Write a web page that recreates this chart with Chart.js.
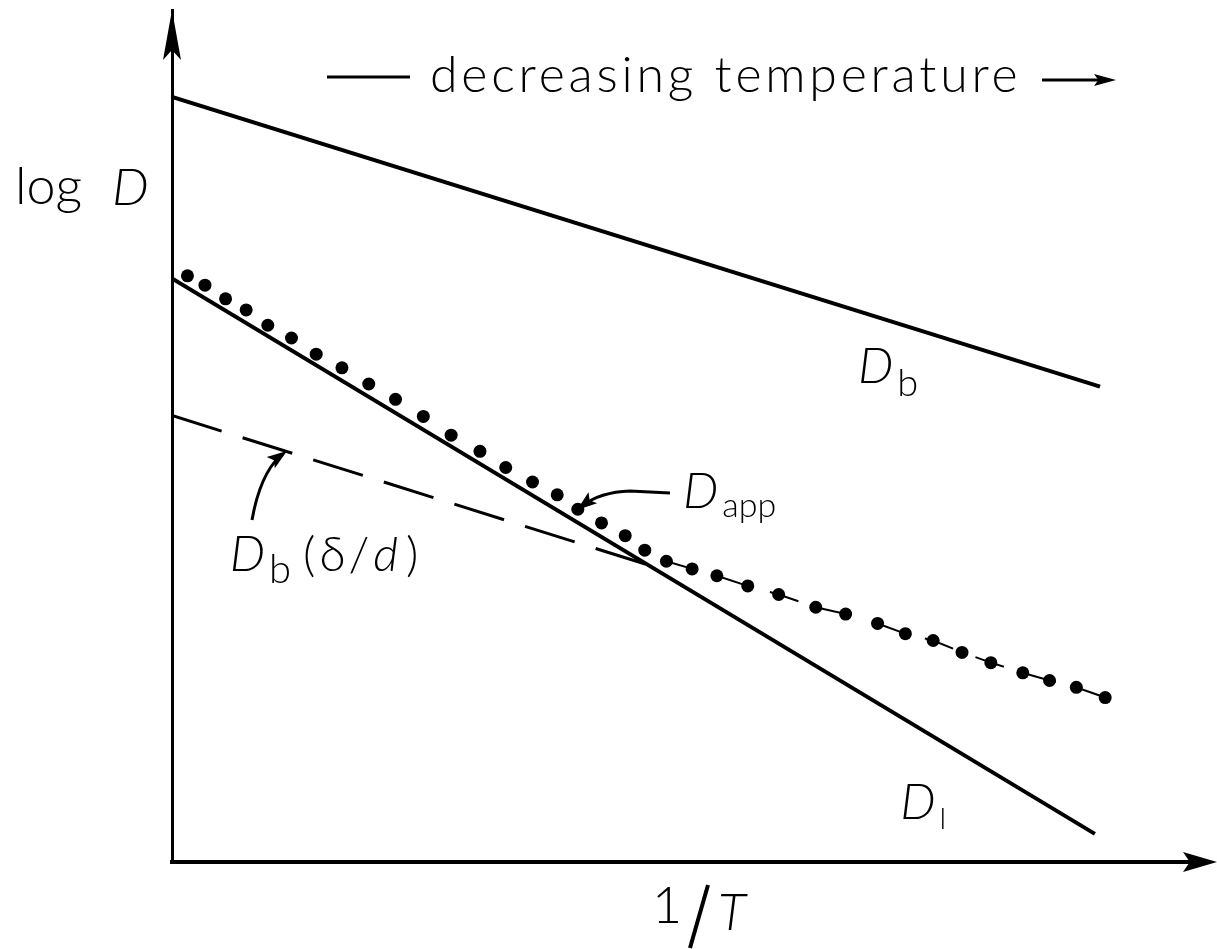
<!DOCTYPE html>
<html>
<head>
<meta charset="utf-8">
<script src="https://cdn.jsdelivr.net/npm/chart.js@4.4.0/dist/chart.umd.min.js"></script>
<style>
  body { margin: 0; background: #fff; }
</style>
</head>
<body>
<canvas id="grafico" width="1217" height="949"></canvas>
<script>
// Eje x: 1/T, eje y: log D (unidades arbitrarias)
const dbX = [0, 9.01];
const dbY = [8.98, 5.58];

const dlX = [0, 8.96];
const dlY = [6.85, 0.33];

const dbDeltaX = [0, 4.64];
const dbDeltaY = [5.24, 3.48];

// Puntos de D_app
const dappX = [0.15, 0.32, 0.52, 0.72, 0.93, 1.16, 1.40, 1.65, 1.91, 2.17, 2.44, 2.71, 2.99, 3.24, 3.50,
               3.74, 3.94, 4.17, 4.40, 4.59, 4.80, 5.05, 5.29, 5.59, 5.89, 6.25, 6.54, 6.85, 7.12, 7.39,
               7.67, 7.95, 8.26, 8.52, 8.78, 9.06];
const dappY = [6.88, 6.77, 6.61, 6.48, 6.30, 6.15, 5.96, 5.80, 5.61, 5.43, 5.23, 5.01, 4.82, 4.63, 4.46,
               4.31, 4.14, 3.98, 3.83, 3.66, 3.53, 3.44, 3.36, 3.24, 3.14, 2.99, 2.91, 2.80, 2.68, 2.60,
               2.46, 2.34, 2.22, 2.13, 2.05, 1.93];

const pares = (xs, ys) => xs.map((x, i) => ({ x: x, y: ys[i] }));

const FUENTE = 'Lato, "DejaVu Sans", sans-serif';

// Punta de flecha rellena con el vértice en (x, y)
function punta(ctx, x, y, ang, largo, ancho) {
    ctx.save();
    ctx.translate(x, y);
    ctx.rotate(ang);
    ctx.beginPath();
    ctx.moveTo(0, 0);
    ctx.lineTo(-largo, -ancho);
    ctx.lineTo(-largo * 0.8, 0);
    ctx.lineTo(-largo, ancho);
    ctx.closePath();
    ctx.fill();
    ctx.restore();
}

// Etiqueta con subíndice: D en cursiva + texto pequeño
function etiqueta(ctx, x, y, sub, tam, tamSub, bajada) {
    ctx.font = 'italic 300 ' + tam + 'px ' + FUENTE;
    ctx.fillText('D', x, y);
    const w = ctx.measureText('D').width;
    ctx.font = '300 ' + tamSub + 'px ' + FUENTE;
    ctx.fillText(sub, x + w + 4, y + bajada);
    return x + w + 4 + ctx.measureText(sub).width;
}

const anotaciones = {
    id: 'anotaciones',
    afterDatasetsDraw(chart) {
        const ctx = chart.ctx;
        const area = chart.chartArea;
        const sx = chart.scales.x;
        const sy = chart.scales.y;
        ctx.save();
        ctx.fillStyle = '#000';
        ctx.strokeStyle = '#000';
        ctx.textBaseline = 'alphabetic';

        // Flechas de los ejes
        punta(ctx, area.left, 10, -Math.PI / 2, 50, 9);
        punta(ctx, 1217, area.bottom, 0, 34, 10);

        // Texto superior
        ctx.lineWidth = 3;
        ctx.beginPath();
        ctx.moveTo(327, 77);
        ctx.lineTo(410, 77);
        ctx.stroke();
        ctx.font = '300 50px ' + FUENTE;
        ctx.letterSpacing = '3.8px';
        ctx.fillText('decreasing temperature', 430, 92);
        ctx.letterSpacing = '0px';
        ctx.beginPath();
        ctx.moveTo(1042, 80);
        ctx.lineTo(1100, 80);
        ctx.stroke();
        punta(ctx, 1116, 80, 0, 22, 6);

        // Título eje y
        ctx.font = '300 52px ' + FUENTE;
        ctx.fillText('log', 15, 204);
        ctx.font = 'italic 300 52px ' + FUENTE;
        ctx.fillText('D', 112, 205);

        // Título eje x
        ctx.font = '300 52px ' + FUENTE;
        ctx.fillText('1', 652, 923);
        ctx.lineWidth = 4;
        ctx.beginPath();
        ctx.moveTo(708, 885);
        ctx.lineTo(690, 948);
        ctx.stroke();
        ctx.font = 'italic 300 52px ' + FUENTE;
        ctx.fillText('T', 718, 930);

        // Etiquetas de las curvas
        etiqueta(ctx, sx.getPixelForValue(6.66), sy.getPixelForValue(5.62), 'b', 50, 38, 13);
        etiqueta(ctx, sx.getPixelForValue(7.07), sy.getPixelForValue(0.505), 'l', 50, 30, 10);
        etiqueta(ctx, sx.getPixelForValue(4.96), sy.getPixelForValue(4.15), 'app', 50, 34, 9);

        let px = etiqueta(ctx, sx.getPixelForValue(0.56), sy.getPixelForValue(3.42), 'b', 50, 40, 12);
        const base = sy.getPixelForValue(3.42);
        ctx.font = '300 48px ' + FUENTE;
        ctx.fillText('(', px + 12, base);
        px += 12 + ctx.measureText('(').width + 4;
        ctx.fillText('δ', px, base);
        px += ctx.measureText('δ').width + 3;
        ctx.fillText('/', px, base);
        px += ctx.measureText('/').width + 4;
        ctx.font = 'italic 300 48px ' + FUENTE;
        ctx.fillText('d', px, base);
        px += ctx.measureText('d').width + 8;
        ctx.font = '300 48px ' + FUENTE;
        ctx.fillText(')', px, base);

        // Flecha curva hacia D_app
        ctx.lineWidth = 3;
        ctx.beginPath();
        ctx.moveTo(670, 493);
        ctx.lineTo(630, 491);
        ctx.quadraticCurveTo(600, 492, 582, 506);
        ctx.stroke();
        punta(ctx, 577, 510, Math.atan2(14, -18), 20, 7);

        // Flecha curva hacia D_b(δ/d)
        ctx.beginPath();
        ctx.moveTo(252, 520);
        ctx.quadraticCurveTo(260, 475, 280, 456);
        ctx.stroke();
        punta(ctx, 287, 451, Math.atan2(-5, 7), 20, 7);

        ctx.restore();
    }
};

new Chart(document.getElementById('grafico').getContext('2d'), {
    type: 'scatter',
    data: {
        datasets: [
            {
                label: 'D_b',
                data: pares(dbX, dbY),
                showLine: true,
                borderColor: '#000',
                borderWidth: 4,
                pointRadius: 0
            },
            {
                label: 'D_l',
                data: pares(dlX, dlY),
                showLine: true,
                borderColor: '#000',
                borderWidth: 4,
                pointRadius: 0
            },
            {
                label: 'D_b(δ/d)',
                data: pares(dbDeltaX, dbDeltaY),
                showLine: true,
                borderColor: '#000',
                borderWidth: 3,
                borderDash: [52, 22],
                pointRadius: 0
            },
            {
                label: 'D_app',
                data: pares(dappX, dappY),
                showLine: true,
                borderColor: '#000',
                borderWidth: 2,
                borderDash: [30, 24],
                // el trazo fino solo aparece donde D_app se separa de D_l
                segment: {
                    borderColor: c => c.p0DataIndex < 20 ? 'rgba(0,0,0,0)' : '#000'
                },
                pointRadius: 6.5,
                pointBackgroundColor: '#000',
                pointBorderWidth: 0
            }
        ]
    },
    options: {
        responsive: false,
        animation: false,
        devicePixelRatio: 1,
        layout: { padding: { left: 172, right: 15, top: 10, bottom: 87 } },
        plugins: {
            legend: { display: false },
            tooltip: { enabled: false }
        },
        scales: {
            x: {
                type: 'linear',
                min: 0,
                max: 10,
                grid: { display: false, drawTicks: false },
                ticks: { display: false },
                border: { display: true, color: '#000', width: 4 }
            },
            y: {
                type: 'linear',
                min: 0,
                max: 10,
                grid: { display: false, drawTicks: false },
                ticks: { display: false },
                border: { display: true, color: '#000', width: 3 }
            }
        }
    },
    plugins: [anotaciones]
});
</script>
</body>
</html>
